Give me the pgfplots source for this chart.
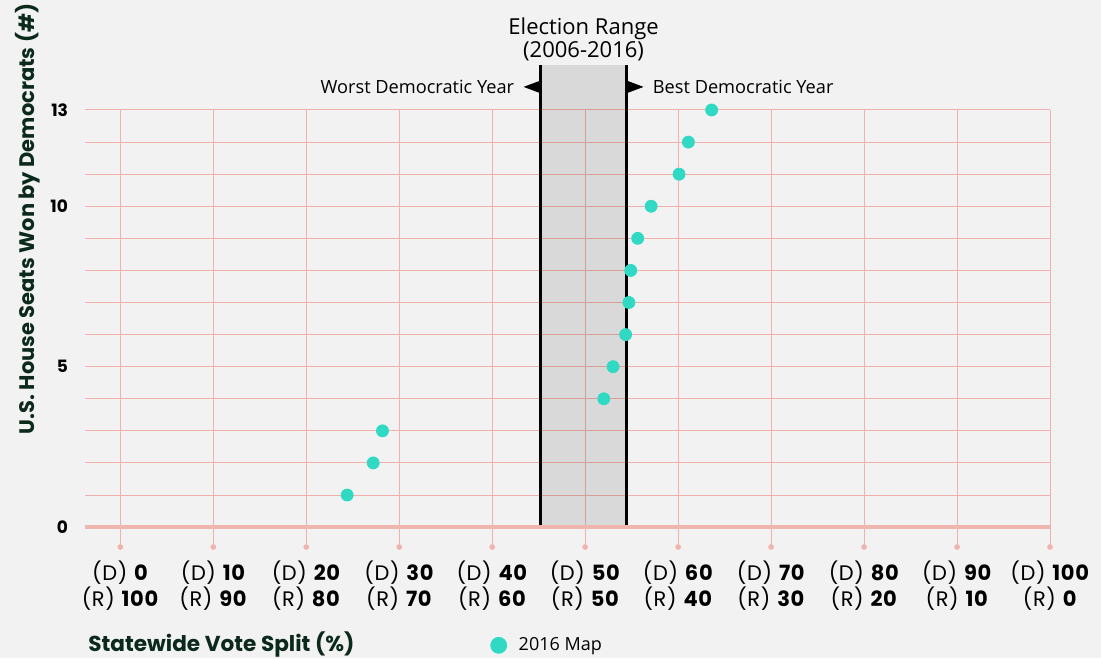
\documentclass[border=0pt]{standalone}
\usepackage{fontspec}
\setmainfont{Open Sans}
\newfontfamily\pop{Poppins}
\newfontfamily\popw{Poppins}[LetterSpace=3]
\usepackage{pgfplots}
\pgfplotsset{compat=1.18}

\definecolor{bg}{HTML}{F2F2F2}
\definecolor{gridpink}{HTML}{F2B0AC}
\definecolor{basepink}{HTML}{EFB6B0}
\definecolor{dotpink}{HTML}{F0B4AE}
\definecolor{seatteal}{HTML}{30D9C4}
\definecolor{darkgreen}{HTML}{0B2A1C}

\begin{document}
\begin{tikzpicture}
\fill[bg] (0,0) rectangle (550.5pt,329pt);
\useasboundingbox (0,0) rectangle (550.5pt,329pt);

% axis titles
\node[rotate=90, font=\pop\bfseries\fontsize{10.5}{11}\selectfont, text=darkgreen]
  at (14pt,219.5pt) {U.S. House Seats Won by Democrats (\#)};
\node[anchor=west, font=\pop\bfseries\fontsize{10.8}{11}\selectfont, text=darkgreen, inner sep=0pt]
  at (44pt,6.5pt) {Statewide Vote Split (\%)};

\begin{axis}[
    at={(42.5pt,55.5pt)}, anchor=south west,
    scale only axis, width=482.5pt, height=218.5pt,
    xmin=-3.8, xmax=100,
    ymin=-0.62, ymax=13,
    clip=false,
    axis line style={draw=none},
    major tick length=0pt, minor tick length=0pt,
    xtick={0,10,...,100},
    xticklabels={
      {(D) \textbf{0}\\(R) \textbf{100}},
      {(D) \textbf{10}\\(R) \textbf{90}},
      {(D) \textbf{20}\\(R) \textbf{80}},
      {(D) \textbf{30}\\(R) \textbf{70}},
      {(D) \textbf{40}\\(R) \textbf{60}},
      {(D) \textbf{50}\\(R) \textbf{50}},
      {(D) \textbf{60}\\(R) \textbf{40}},
      {(D) \textbf{70}\\(R) \textbf{30}},
      {(D) \textbf{80}\\(R) \textbf{20}},
      {(D) \textbf{90}\\(R) \textbf{10}},
      {(D) \textbf{100}\\(R) \textbf{0}}},
    xticklabel style={font=\popw\fontsize{10.5}{10.5}\selectfont, align=center, text=black, yshift=-3.5pt},
    ytick={0,5,10,13},
    yticklabels={0,5,10,13},
    minor ytick={1,...,12},
    yticklabel style={font=\pop\bfseries\fontsize{8.5}{10}\selectfont, text=black, xshift=-5pt},
    xmajorgrids, ymajorgrids, yminorgrids,
    major grid style={gridpink, line width=0.5pt},
    minor grid style={gridpink, line width=0.5pt},
    legend style={at={(0.42,-0.225)}, anchor=west, draw=none, fill=none,
      font=\fontsize{9}{10}\selectfont, inner sep=0pt,
      /tikz/every odd column/.append style={column sep=4pt}},
    legend image post style={mark size=4pt},
    legend cell align=left,
]

% election range band
\fill[black, fill opacity=0.1] (axis cs:45.2,0) rectangle (axis cs:54.45,14.4);
\draw[line width=1.5pt] (axis cs:45.2,0) -- (axis cs:45.2,14.4);
\draw[line width=1.5pt] (axis cs:54.45,0) -- (axis cs:54.45,14.4);
\coordinate (wl) at (axis cs:45.2,13.72);
\coordinate (bl) at (axis cs:54.45,13.72);
\coordinate (title) at (axis cs:49.83,15.2);

% baseline
\draw[basepink, line width=2.2pt] (axis cs:-3.8,0) -- (axis cs:100,0);

% tick dots
\addplot[only marks, mark=*, mark size=1.2pt, color=dotpink, forget plot]
  coordinates {(0,-0.62)(10,-0.62)(20,-0.62)(30,-0.62)(40,-0.62)(50,-0.62)
               (60,-0.62)(70,-0.62)(80,-0.62)(90,-0.62)(100,-0.62)};

% 2016 map
\addplot[only marks, mark=*, mark size=3pt, color=seatteal]
  coordinates {(24.4,1)(27.2,2)(28.2,3)(52.0,4)(53.0,5)(54.35,6)(54.7,7)
               (54.9,8)(55.65,9)(57.1,10)(60.1,11)(61.1,12)(63.6,13)};
\legend{2016 Map}
\end{axis}

% arrows and annotations
\fill ([shift={(-0.5pt,3pt)}]wl) -- ([shift={(-0.5pt,-3pt)}]wl) -- ([xshift=-8.5pt]wl) -- cycle;
\fill ([shift={(0.5pt,3pt)}]bl) -- ([shift={(0.5pt,-3pt)}]bl) -- ([xshift=8.5pt]bl) -- cycle;
\node[anchor=east, font=\fontsize{9.1}{10}\selectfont, inner sep=0pt]
  at ([xshift=-13pt]wl) {Worst Democratic Year};
\node[anchor=west, font=\fontsize{9.1}{10}\selectfont, inner sep=0pt]
  at ([xshift=13pt]bl) {Best Democratic Year};
\node[align=center, font=\fontsize{11}{11.5}\selectfont, inner sep=0pt]
  at (title) {Election Range\\(2006-2016)};
\end{tikzpicture}
\end{document}
